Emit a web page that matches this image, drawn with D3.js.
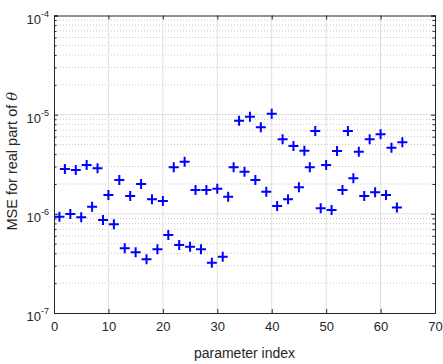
<!DOCTYPE html>
<html>
<head>
<meta charset="utf-8">
<script src="https://cdn.jsdelivr.net/npm/d3@7"></script>
<style>
  body { margin:0; background:#fff; }
  text { font-family: "Liberation Sans", Arial, sans-serif; fill:#262626; }
</style>
</head>
<body>
<div id="chart-area"></div>
<script>
// parameter index 1..64
const paramIndex=[1,2,3,4,5,6,7,8,9,10,11,12,13,14,15,16,17,18,19,20,21,22,23,24,25,26,27,28,29,30,31,32,
  33,34,35,36,37,38,39,40,41,42,43,44,45,46,47,48,49,50,51,52,53,54,55,56,57,58,59,60,61,62,63,64];

// MSE for real part of theta
const mse=[9.35e-7,2.83e-6,9.96e-7,2.77e-6,9.23e-7,3.11e-6,1.18e-6,2.88e-6,8.67e-7,1.55e-6,
  7.85e-7,2.19e-6,4.50e-7,1.51e-6,4.09e-7,2.00e-6,3.48e-7,1.40e-6,4.39e-7,1.35e-6,
  6.12e-7,2.95e-6,4.85e-7,3.36e-6,4.67e-7,1.74e-6,4.39e-7,1.74e-6,3.22e-7,1.79e-6,
  3.70e-7,1.49e-6,2.95e-6,8.69e-6,2.66e-6,9.54e-6,2.19e-6,7.46e-6,1.67e-6,1.02e-5,
  1.20e-6,5.64e-6,1.40e-6,4.83e-6,1.85e-6,4.33e-6,2.95e-6,6.85e-6,1.14e-6,3.11e-6,
  1.09e-6,4.30e-6,1.74e-6,6.85e-6,2.28e-6,4.23e-6,1.51e-6,5.64e-6,1.65e-6,6.34e-6,
  1.55e-6,4.65e-6,1.16e-6,5.26e-6];

const xTicks=[0,10,20,30,40,50,60,70];
const yExps=[-7,-6,-5,-4];

const margin={left:54,right:8,top:15.5,bottom:51};
const W=443,H=364;
const width=W-margin.left-margin.right;
const height=H-margin.top-margin.bottom;

const svg=d3.select('#chart-area').append('svg')
    .attr('width',W)
    .attr('height',H);

const g=svg.append('g')
    .attr('transform','translate('+margin.left+','+margin.top+')');

const x=d3.scaleLinear().domain([0,70]).range([0,width]);
const y=d3.scaleLog().domain([1e-7,1e-4]).range([height,0]);

const decades=yExps.map(e=>Math.pow(10,e));
let minors=[];
decades.slice(0,3).forEach(d=>{
    for(let k=2;k<=9;k++) minors.push(d*k);
});

// minor grid (dotted)
g.append('g').selectAll('line')
    .data(minors).enter().append('line')
    .attr('x1',0).attr('x2',width)
    .attr('y1',d=>y(d)).attr('y2',d=>y(d))
    .attr('stroke','#c8c8c8')
    .attr('stroke-width',1)
    .attr('stroke-dasharray','1,2');

// major grid
g.append('g').selectAll('line')
    .data(decades.slice(1,3)).enter().append('line')
    .attr('x1',0).attr('x2',width)
    .attr('y1',d=>y(d)).attr('y2',d=>y(d))
    .attr('stroke','#dfdfdf');
g.append('g').selectAll('line')
    .data(xTicks.slice(1,-1)).enter().append('line')
    .attr('x1',d=>x(d)).attr('x2',d=>x(d))
    .attr('y1',0).attr('y2',height)
    .attr('stroke','#dfdfdf');

// axes
const xAxisGroup=g.append('g')
    .attr('transform','translate(0,'+height+')')
    .call(d3.axisBottom(x).tickValues(xTicks).tickSize(-4).tickPadding(9).tickFormat(d3.format('d')));
const xTopGroup=g.append('g')
    .call(d3.axisTop(x).tickValues(xTicks).tickSize(-4).tickFormat(''));

const yAxisGroup=g.append('g')
    .call(d3.axisLeft(y).tickValues(decades).tickSize(-4).tickFormat(''));
g.append('g')
    .call(d3.axisLeft(y).tickValues(minors).tickSize(-2.5).tickFormat(''));
g.append('g')
    .attr('transform','translate('+width+',0)')
    .call(d3.axisRight(y).tickValues(decades).tickSize(-4).tickFormat(''));
g.append('g')
    .attr('transform','translate('+width+',0)')
    .call(d3.axisRight(y).tickValues(minors).tickSize(-2.5).tickFormat(''));

g.selectAll('.domain').attr('stroke','#262626');
g.selectAll('.tick line').attr('stroke','#262626');
xAxisGroup.selectAll('text')
    .attr('font-size','13px')
    .attr('font-family','"Liberation Sans", Arial, sans-serif')
    .attr('fill','#262626');

// y tick labels with superscripts
const yLab=g.append('g').selectAll('text')
    .data(yExps).enter().append('text')
    .attr('x',-5)
    .attr('y',d=>y(Math.pow(10,d))+8)
    .attr('text-anchor','end')
    .attr('font-size','13px');
yLab.append('tspan').text('10');
yLab.append('tspan')
    .attr('dy',-7)
    .attr('font-size','9px')
    .text(d=>'-'+(-d));

// markers
g.append('g').selectAll('path')
    .data(paramIndex).enter().append('path')
    .attr('d','M-5,0H5M0,-5V5')
    .attr('transform',(d,i)=>'translate('+x(d)+','+y(mse[i])+')')
    .attr('stroke','#0000ff')
    .attr('stroke-width',2)
    .attr('fill','none');

// x axis label
g.append('text')
    .attr('x',width/2)
    .attr('y',height+45)
    .attr('text-anchor','middle')
    .attr('font-size','14px')
    .text('parameter index');

// y axis label
const yLabel=g.append('text')
    .attr('transform','translate('+(-37)+','+(height/2-3)+') rotate(-90)')
    .attr('text-anchor','middle')
    .attr('font-size','14.5px');
yLabel.append('tspan').text('MSE for real part of ');
yLabel.append('tspan').attr('font-style','italic').attr('font-family','"DejaVu Serif", serif').text('θ');
</script>
</body>
</html>
